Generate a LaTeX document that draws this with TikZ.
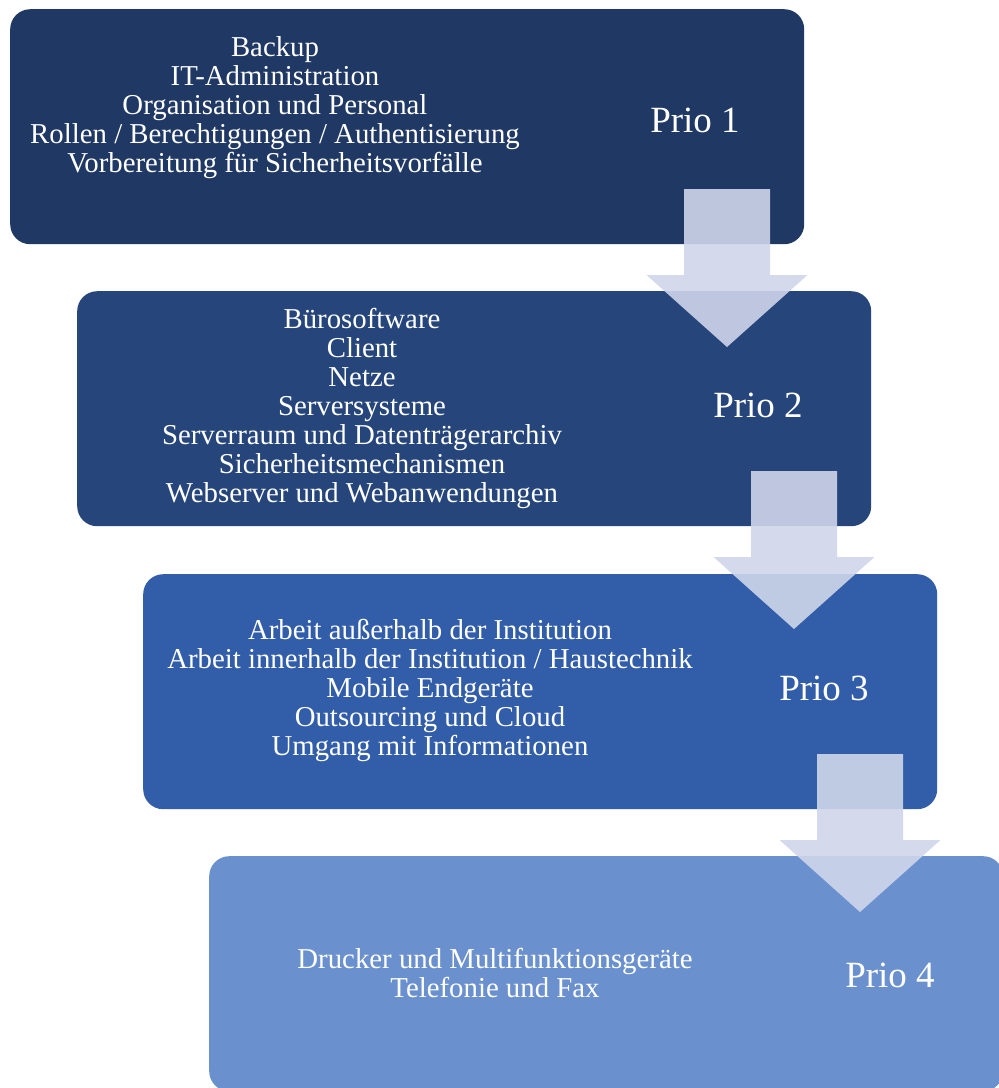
\documentclass[tikz,border=0pt]{standalone}
\usepackage{fontspec}
\setmainfont{Liberation Serif}
\usepackage{xcolor}
\definecolor{prioOne}{RGB}{32,56,100}
\definecolor{prioTwo}{RGB}{38,70,123}
\definecolor{prioThree}{RGB}{50,93,168}
\definecolor{prioFour}{RGB}{106,145,206}
\definecolor{flowArrow}{RGB}{207,214,234}

\begin{document}
\begin{tikzpicture}[x=1pt,y=-1pt,
    prio/.style={rectangle,rounded corners=20pt,minimum width=794pt,minimum height=235pt,anchor=north west,inner sep=0pt},
    topics/.style={text=white,align=center,font=\fontsize{28.8}{29}\selectfont},
    priolabel/.style={text=white,font=\fontsize{37}{40}\selectfont},
    flow/.style={fill=flowArrow,fill opacity=0.9,draw=none}]
    \useasboundingbox (0,0) rectangle (999,1088);
    \clip (0,0) rectangle (999,1088);

    % Prio 1
    \node[prio,fill=prioOne] (box1) at (10,9) {};
    \node[topics] (list1) at (275,108) {Backup\\IT-Administration\\Organisation und Personal\\Rollen / Berechtigungen / Authentisierung\\Vorbereitung für Sicherheitsvorfälle};
    \node[priolabel] (prio1) at (695,120) {Prio 1};

    % Prio 2
    \node[prio,fill=prioTwo] (box2) at (77,291) {};
    \node[topics] (list2) at (362,408) {Bürosoftware\\Client\\Netze\\Serversysteme\\Serverraum und Datenträgerarchiv\\Sicherheitsmechanismen\\Webserver und Webanwendungen};
    \node[priolabel] (prio2) at (758,405) {Prio 2};

    % Prio 3
    \node[prio,fill=prioThree] (box3) at (143,574) {};
    \node[topics] (list3) at (430,690) {Arbeit außerhalb der Institution\\Arbeit innerhalb der Institution / Haustechnik\\Mobile Endgeräte\\Outsourcing und Cloud\\Umgang mit Informationen};
    \node[priolabel] (prio3) at (824,688) {Prio 3};

    % Prio 4
    \node[prio,fill=prioFour] (box4) at (209,856) {};
    \node[topics] (list4) at (495,973) {Drucker und Multifunktionsgeräte\\Telefonie und Fax};
    \node[priolabel] (prio4) at (890,975) {Prio 4};

    % Arrows between the levels
    \coordinate (tip1) at (727,347);
    \coordinate (tip2) at (794,629);
    \coordinate (tip3) at (860,912);
    \foreach \t in {tip1,tip2,tip3}
        \fill[flow] (\t) ++(-43,-158) -- ++(86,0) -- ++(0,86) -- ++(37.5,0) -- (\t) -- ++(-80.5,-72) -- ++(37.5,0) -- cycle;
\end{tikzpicture}
\end{document}
